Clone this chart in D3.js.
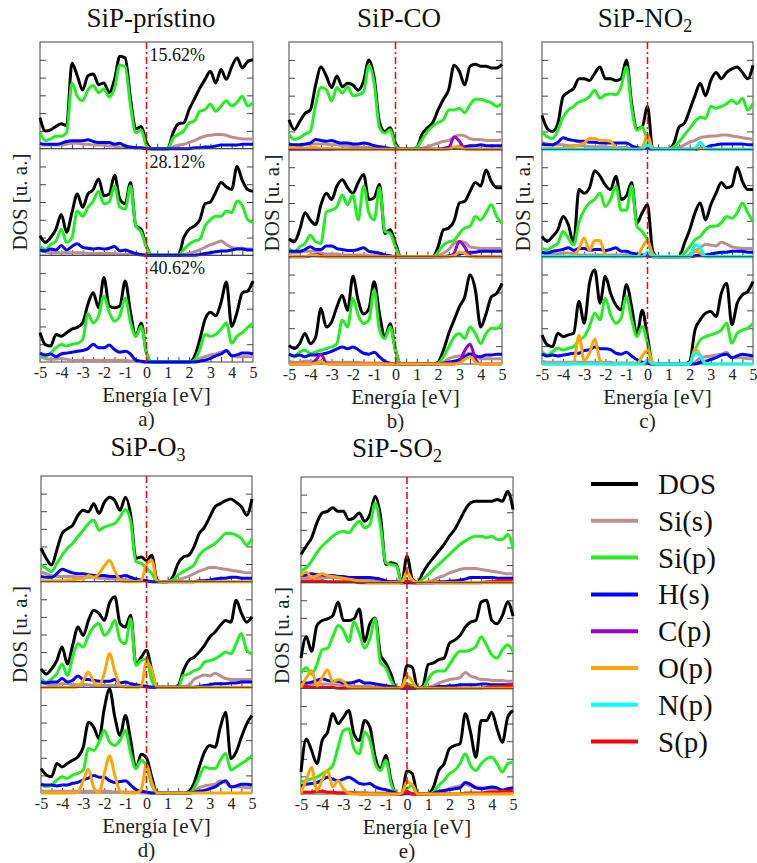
<!DOCTYPE html>
<html>
<head>
<meta charset="utf-8">
<script src="https://cdn.jsdelivr.net/npm/d3@7"></script>
<style>
  body { margin: 0; background: #fff; }
  svg { display: block; font-family: "Liberation Serif", "DejaVu Serif", serif; }
</style>
</head>
<body>
<div id="chart"></div>
<script>
// Densidad de estados proyectada, SiP prístino y con moléculas adsorbidas

const energy = [-5,-4.75,-4.5,-4.25,-4,-3.75,-3.5,-3.25,-3,-2.75,-2.5,-2.25,-2,-1.75,-1.5,-1.25,-1,-0.75,-0.5,-0.25,
  0,0.25,0.5,0.75,1,1.25,1.5,1.75,2,2.25,2.5,2.75,3,3.25,3.5,3.75,4,4.25,4.5,4.75,5];

const seriesNames = ['DOS', 'Si(s)', 'Si(p)', 'H(s)', 'C(p)', 'O(p)', 'N(p)', 'S(p)'];
const seriesColors = ['#000000', '#bc8f8f', '#22ee22', '#0000ff', '#9400d3', '#ffa500', '#00ffff', '#ff0000'];
const drawOrder = ['DOS', 'Si(s)', 'Si(p)', 'H(s)', 'S(p)', 'C(p)', 'O(p)', 'N(p)'];

const energyTicks = [-5,-4,-3,-2,-1,0,1,2,3,4,5];
const coverageLabels = ['15.62%', '28.12%', '40.62%'];

// --- a) SiP-prístino ---
const a1_dos = [1.75,1.0,1.06,1.25,1.4,1.3,4.8,4.1,3.3,4.1, 4.2,3.6,3.7,3.15,3.9,5.2,5.1,2.8,1.1,1.25, 0.35, 0,0,0,0,0.9,1.4,1.45,2.2,2.8,3.4, 3.9,4.35,3.7,4.45,3.9,4.6,5.1,4.55,4.9,5.0];
const a1_sip = [0.9,0.45,0.55,0.7,0.7,0.9,3.7,2.95,2.7,3.3, 3.55,3.15,3.35,2.9,3.4,4.7,4.6,2.4,0.9,1.05, 0.15, 0,0,0,0,0.6,0.8,1.0,1.45,1.55,2.1, 2.2,2.5,2.1,2.4,2.7,2.4,2.6,2.95,2.4,2.6];
const a1_sis = [0.25,0.2,0.2,0.2,0.2,0.25,0.3,0.3,0.25,0.25, 0.2,0.2,0.2,0.15,0.15,0.1,0.1,0.05,0.05,0.05, 0, 0,0,0,0,0.1,0.2,0.25,0.35,0.45,0.6, 0.7,0.75,0.8,0.8,0.75,0.65,0.6,0.55,0.55,0.55];
const a1_hs = [0.3,0.25,0.25,0.25,0.3,0.4,0.45,0.45,0.45,0.5, 0.4,0.35,0.35,0.35,0.25,0.3,0.15,0.1,0.05,0.05, 0, 0,0,0,0,0,0,0,0,0.05,0.05, 0.1,0.1,0.15,0.2,0.2,0.2,0.2,0.25,0.25,0.25];

const a2_dos = [1.1,0.73,1.0,1.47,2.3,1.3,2.4,3.45,2.7,3.45, 3.7,4.3,3.35,3.45,4.5,3.15,2.9,4.1,1.65,1.47, 0.5, 0,0,0,0,0,0,1.0,1.47,1.65,2.0, 2.9,3.0,3.55,4.1,3.85,3.7,5.0,4.2,3.7,3.6];
const a2_sip = [0.5,0.33,0.62,0.8,1.47,0.73,1.0,2.5,2.2,2.7, 3.05,3.6,2.9,3.0,3.9,2.7,2.6,3.9,1.65,1.3, 0.45, 0,0,0,0,0,0,0.33,0.62,0.8,0.9, 1.65,2.0,2.2,2.2,2.5,2.4,3.05,2.8,2.0,1.85];
const a2_sis = [0.25,0.2,0.15,0.15,0.15,0.15,0.15,0.15,0.15,0.1, 0.1,0.1,0.1,0.1,0.1,0.05,0.05,0.05,0.05,0, 0, 0,0,0,0,0,0,0.05,0.1,0.2,0.3, 0.45,0.6,0.7,0.8,0.6,0.45,0.4,0.4,0.35,0.35];
const a2_hs = [0.3,0.25,0.35,0.3,0.55,0.3,0.5,0.65,0.45,0.4, 0.35,0.4,0.35,0.4,0.5,0.25,0.3,0.2,0.1,0.05, 0, 0,0,0,0,0,0,0,0,0,0.05, 0.1,0.15,0.2,0.25,0.25,0.3,0.35,0.35,0.3,0.3];

const a3_dos = [1.65,0.98,0.9,1.55,1.45,1.65,1.85,1.95,2.2,3.25, 3.9,3.05,4.75,3.15,3.05,3.15,4.55,2.8,1.45,2.2, 0.5, 0,0,0,0,0,0,0,0,0.3,1.25, 2.4,2.8,2.6,3.35,4.5,2.0,2.8,3.9,4.0,4.55];
const a3_sip = [0.5,0.3,0.5,0.8,0.98,0.9,1.0,1.05,1.25,2.7, 2.2,2.6,3.7,2.8,2.3,2.6,3.6,2.2,1.45,2.0, 0.5, 0,0,0,0,0,0,0,0,0.1,0.7, 1.55,1.45,1.55,1.85,2.2,1.05,1.45,1.65,1.95,2.2];
const a3_sis = [0.3,0.2,0.15,0.15,0.2,0.15,0.1,0.1,0.1,0.1, 0.1,0.1,0.1,0.1,0.1,0.1,0.1,0.05,0.05,0, 0, 0,0,0,0,0,0,0,0,0.05,0.2, 0.3,0.4,0.45,0.55,0.6,0.35,0.3,0.3,0.3,0.3];
const a3_hs = [0.5,0.4,0.45,0.3,0.45,0.5,0.55,0.6,0.65,0.75, 1.0,0.8,0.8,0.95,0.7,0.55,0.6,0.45,0.1,0.05, 0, 0,0,0,0,0,0,0,0,0,0.05, 0.1,0.2,0.35,0.45,0.65,0.35,0.4,0.5,0.5,0.45];

// --- b) SiP-CO ---
const b1_dos = [1.65,1.1,1.55,2.0,2.2,3.6,4.6,4.1,3.45,4.1, 3.5,3.7,3.6,3.3,3.8,5.0,4.0,1.5,1.0,1.2, 0.35, 0,0,0,0.1,0.85,1.2,1.5,2.2,2.8,3.35, 4.7,4.35,3.6,4.65,4.75,4.65,4.65,4.55,4.55,4.75];
const b1_sip = [0.85,0.55,0.65,0.85,1.0,2.5,3.45,3.35,2.7,3.45, 3.15,3.5,3.0,3.05,3.2,4.7,3.7,1.2,0.9,1.1, 0.2, 0,0,0,0.1,0.55,1.0,1.3,1.5,1.65,2.2, 2.2,2.3,2.05,2.5,2.8,2.8,2.7,2.6,2.4,2.55];
const b1_sis = [0.25,0.2,0.2,0.25,0.3,0.3,0.3,0.3,0.25,0.25, 0.2,0.2,0.15,0.15,0.1,0.1,0.05,0.05,0,0, 0, 0,0,0,0,0.05,0.15,0.25,0.35,0.45,0.5, 0.65,0.8,0.75,0.6,0.55,0.55,0.5,0.5,0.5,0.55];
const b1_hs = [0.3,0.25,0.25,0.3,0.35,0.55,0.5,0.45,0.5,0.4, 0.35,0.35,0.3,0.3,0.35,0.3,0.2,0.15,0.1,0.05, 0, 0,0,0,0,0,0,0,0,0.05,0.1, 0.1,0.15,0.15,0.2,0.2,0.25,0.2,0.2,0.2,0.2];
const b1_cp = [0,0,0,0,0,0,0,0,0,0, 0,0,0,0,0,0,0,0,0,0, 0, 0,0,0,0,0,0,0,0,0,0.05, 0.7,0.45,0.05,0,0,0,0,0,0,0];
const b1_op = [0.1,0.1,0.05,0.05,0.1,0.1,0.05,0.05,0.05,0, 0,0,0,0,0,0,0,0,0,0, 0, 0,0,0,0,0,0,0,0,0,0, 0.15,0.15,0,0,0,0,0,0,0,0];

const b2_dos = [1.0,0.83,1.5,2.45,2.05,1.8,2.9,3.55,3.2,3.95, 4.3,3.85,3.55,4.15,4.6,3.2,3.3,4.05,1.3,1.5, 0.75, 0,0,0,0,0,0,0,0.55,1.5,1.6, 2.0,3.0,3.1,3.65,4.15,3.95,4.85,4.2,3.85,3.85];
const b2_sip = [0.45,0.26,0.55,0.74,1.2,0.83,0.74,2.5,2.6,2.8, 3.45,2.9,3.45,2.05,3.95,2.45,2.05,3.85,1.4,1.3, 0.55, 0,0,0,0,0,0,0,0.26,0.65,0.83, 0.92,1.3,1.6,1.7,2.25,2.05,2.45,2.9,2.25,1.85];
const b2_sis = [0.2,0.2,0.25,0.3,0.3,0.35,0.2,0.15,0.15,0.15, 0.1,0.1,0.1,0.1,0.1,0.05,0.05,0.05,0,0, 0, 0,0,0,0,0,0,0,0.05,0.2,0.4, 0.75,0.85,0.8,0.55,0.5,0.45,0.45,0.45,0.45,0.45];
const b2_hs = [0.3,0.3,0.3,0.4,0.55,0.4,0.4,0.6,0.6,0.45, 0.4,0.35,0.35,0.4,0.5,0.3,0.25,0.2,0.1,0.05, 0, 0,0,0,0,0,0,0,0,0,0.05, 0.1,0.15,0.2,0.25,0.25,0.3,0.3,0.3,0.3,0.3];
const b2_cp = [0,0,0,0,0.05,0.15,0.05,0,0,0, 0,0,0,0,0,0,0,0,0,0, 0, 0,0,0,0,0,0,0,0,0,0, 0.2,0.85,0.55,0.05,0,0,0,0,0,0];
const b2_op = [0.05,0,0,0,0.1,0.1,0,0,0,0, 0,0,0,0,0,0,0,0,0,0, 0, 0,0,0,0,0,0,0,0,0,0, 0.05,0.25,0.2,0,0,0,0,0,0,0];

const b3_dos = [1.05,0.86,1.14,1.7,1.14,1.5,3.1,2.07,2.35,3.2, 3.85,3.0,4.9,3.55,2.8,3.1,4.6,2.8,1.5,2.25, 0.77, 0,0,0,0,0,0,0,0.1,0.77,1.7, 2.45,3.2,3.75,4.97,4.13,2.07,2.8,3.75,3.95,4.5];
const b3_sip = [0.49,0.4,0.67,0.77,0.58,0.67,0.77,0.86,0.95,1.14, 2.45,2.07,3.66,2.73,2.26,2.45,4.13,1.89,1.42,2.07, 0.77, 0,0,0,0,0,0,0,0.05,0.4,0.95, 1.5,1.7,1.42,2.07,1.7,1.14,1.7,1.98,1.98,2.26];
const b3_sis = [0.15,0.1,0.1,0.15,0.15,0.15,0.1,0.1,0.1,0.1, 0.1,0.1,0.1,0.1,0.05,0.05,0.05,0.05,0,0, 0, 0,0,0,0,0,0,0,0,0.1,0.3, 0.4,0.45,0.5,0.6,0.5,0.3,0.3,0.3,0.3,0.3];
const b3_hs = [0.55,0.45,0.5,0.4,0.5,0.5,0.55,0.6,0.7,0.85, 0.95,0.85,0.95,0.8,0.6,0.55,0.65,0.4,0.15,0.05, 0, 0,0,0,0,0,0,0,0,0.05,0.1, 0.15,0.25,0.4,0.55,0.45,0.4,0.5,0.5,0.55,0.55];
const b3_cp = [0,0,0,0,0,0.2,0.55,0.05,0,0, 0,0,0,0,0,0,0,0,0,0, 0, 0,0,0,0,0,0,0,0,0,0, 0,0.15,0.75,1.1,0.3,0,0,0,0,0];
const b3_op = [0,0,0,0,0,0.05,0.15,0,0,0, 0,0,0,0,0,0,0,0,0,0, 0, 0,0,0,0,0,0,0,0,0,0, 0,0.05,0.25,0.4,0.1,0,0,0,0,0];

// --- c) SiP-NO2 ---
const c1_dos = [1.9,1.17,1.0,1.45,2.95,3.2,3.4,3.95,3.95,3.85, 4.25,4.6,3.95,3.95,3.85,3.95,5.0,2.55,1.17,1.25, 2.4, 0,0,0,0,0.33,1.25,1.45,2.2,3.0,3.7, 3.0,3.85,4.3,3.95,4.3,4.5,4.6,4.3,3.95,4.7];
const c1_sip = [1.0,0.7,0.6,1.07,1.8,2.2,2.4,2.65,2.75,2.95, 3.3,2.85,3.05,3.1,3.05,3.5,4.6,2.3,1.07,1.25, 0.5, 0,0,0,0,0.15,0.43,0.8,1.17,1.55,1.8, 1.73,2.4,2.3,2.4,2.55,2.75,2.55,2.85,2.2,2.55];
const c1_sis = [0.4,0.3,0.25,0.25,0.25,0.2,0.2,0.2,0.2,0.15, 0.15,0.15,0.15,0.1,0.1,0.1,0.1,0.05,0.05,0.05, 0.05, 0,0,0,0,0.05,0.1,0.25,0.4,0.5,0.65, 0.7,0.75,0.75,0.8,0.8,0.75,0.7,0.65,0.6,0.55];
const c1_hs = [0.3,0.25,0.25,0.4,0.65,0.55,0.5,0.45,0.45,0.4, 0.4,0.35,0.35,0.35,0.35,0.35,0.35,0.2,0.1,0.05, 0.05, 0,0,0,0,0,0,0,0,0,0.05, 0.1,0.2,0.25,0.3,0.3,0.3,0.3,0.3,0.25,0.25];
const c1_op = [0.05,0.05,0.05,0.05,0.05,0.1,0.15,0.25,0.35,0.6, 0.6,0.5,0.5,0.45,0.1,0,0,0,0,0.1, 0.8, 0.05,0,0,0,0,0,0,0,0,0.05, 0,0,0,0,0,0,0,0,0,0];
const c1_np = [0,0,0,0,0,0,0,0,0,0, 0,0,0,0,0,0,0,0,0,0, 0.3, 0,0,0,0,0,0,0,0,0.05,0.4, 0.05,0,0,0,0,0,0,0,0,0];

const c2_dos = [1.13,0.85,1.13,1.5,2.25,1.78,0.75,3.75,3.55,3.85, 4.8,4.5,4.0,3.75,4.5,3.2,3.4,4.15,1.9,2.45, 2.9, 0.3,0,0,0,0,0,0.75,1.5,2.45,3.0, 2.05,2.9,3.55,4.15,3.85,3.95,5.0,4.2,3.75,3.75];
const c2_sip = [0.47,0.38,0.56,0.75,1.4,1.03,0.66,1.9,2.6,3.0, 3.2,3.55,2.8,3.2,3.95,2.6,2.6,3.95,1.7,1.4, 0.94, 0.1,0,0,0,0,0,0.2,0.56,0.94,1.13, 1.5,1.7,1.7,1.9,2.25,2.15,2.45,3.0,2.45,1.97];
const c2_sis = [0.2,0.2,0.15,0.15,0.2,0.2,0.15,0.1,0.1,0.1, 0.1,0.1,0.1,0.1,0.1,0.1,0.1,0.05,0.05,0.05, 0.05, 0,0,0,0,0,0,0,0.1,0.3,0.5, 0.7,0.65,0.6,0.8,0.7,0.55,0.5,0.45,0.45,0.45];
const c2_hs = [0.25,0.2,0.3,0.35,0.4,0.5,0.35,0.45,0.45,0.35, 0.4,0.4,0.35,0.4,0.5,0.3,0.3,0.2,0.15,0.1, 0.05, 0,0,0,0,0,0,0,0,0.05,0.1, 0.1,0.15,0.2,0.25,0.25,0.3,0.3,0.3,0.25,0.25];
const c2_op = [0,0,0,0,0,0,0.05,0.45,1.05,0.35, 0.9,0.9,0.1,0,0,0,0,0,0,0.5, 0.9, 0.15,0,0,0,0,0,0,0,0.35,0.2, 0,0,0,0,0,0,0,0,0,0];
const c2_np = [0,0,0,0,0,0,0,0,0,0, 0,0,0,0,0,0,0,0,0,0, 0.25, 0,0,0,0,0,0,0,0,0.65,0.5, 0,0,0,0,0,0,0,0,0,0];

const c3_dos = [1.63,1.07,0.97,1.72,1.53,1.63,1.72,3.5,2.28,4.52, 5.27,3.4,4.9,3.96,3.3,3.03,4.43,3.2,1.63,3.0, 1.53, 0,0,0,0,0,0,0,0.13,1.9,2.47, 2.84,2.93,2.65,3.96,4.52,2.19,3.4,3.87,4.05,4.6];
const c3_sip = [0.69,0.5,0.69,0.88,0.78,0.88,0.97,1.35,1.53,2.1, 2.84,2.47,3.68,2.75,2.28,2.56,3.78,2.47,1.53,2.1, 1.16, 0,0,0,0,0,0,0,0.04,0.78,1.35, 1.53,1.63,1.72,1.9,2.28,1.16,1.72,1.9,2.0,2.28];
const c3_sis = [0.15,0.1,0.1,0.1,0.1,0.1,0.1,0.1,0.1,0.1, 0.1,0.1,0.1,0.1,0.05,0.05,0.05,0.05,0.05,0, 0, 0,0,0,0,0,0,0,0,0.1,0.35, 0.4,0.45,0.5,0.55,0.65,0.35,0.35,0.35,0.3,0.3];
const c3_hs = [0.55,0.45,0.5,0.45,0.5,0.55,0.6,0.6,0.75,0.8, 0.95,0.85,0.85,0.8,0.6,0.55,0.65,0.45,0.25,0.1, 0.05, 0,0,0,0,0,0,0,0,0,0.1, 0.15,0.25,0.35,0.5,0.55,0.35,0.45,0.55,0.5,0.45];
const c3_op = [0,0,0,0,0,0,0.05,1.6,0.2,0.6, 1.4,0.2,0,0,0,0,0,0,0,0.45, 0.75, 0.1,0,0,0,0,0,0,0,0.85,0.5, 0.05,0,0,0,0,0,0,0,0,0];
const c3_np = [0,0,0,0,0,0,0,0,0,0, 0,0,0,0,0,0,0,0,0,0, 0.2, 0,0,0,0,0,0,0,0,0.65,0.45, 0,0,0,0,0,0,0,0,0,0];

// --- d) SiP-O3 ---
const d1_dos = [1.9,1.32,0.94,1.8,2.74,3.0,3.2,3.77,4.05,3.96, 4.43,3.87,4.5,4.8,4.6,4.05,4.8,3.8,1.32,1.4, 1.2, 1.5,0.1,0,0,0.28,1.04,1.4,1.5,1.98,2.74, 3.1,3.68,4.25,4.43,4.6,4.7,4.5,4.25,3.77,4.7];
const d1_sip = [0.94,0.75,0.57,1.04,1.5,1.9,2.17,2.55,2.92,3.3, 3.5,2.92,3.1,3.2,3.3,3.68,4.1,3.4,1.13,1.04, 0.75, 0.47,0,0,0,0.09,0.38,0.57,0.75,0.94,1.5, 1.8,1.98,2.17,2.45,2.74,2.74,2.64,2.45,2.08,2.45];
const d1_sis = [0.55,0.45,0.35,0.3,0.3,0.3,0.3,0.25,0.25,0.25, 0.25,0.2,0.2,0.15,0.15,0.15,0.1,0.1,0.05,0.05, 0.05, 0,0,0,0,0.05,0.1,0.2,0.3,0.45,0.6, 0.7,0.8,0.8,0.75,0.7,0.65,0.6,0.55,0.5,0.5];
const d1_hs = [0.3,0.25,0.25,0.45,0.7,0.6,0.5,0.45,0.45,0.4, 0.35,0.35,0.35,0.3,0.3,0.3,0.35,0.25,0.15,0.1, 0.05, 0,0,0,0,0,0,0,0,0,0.05, 0.05,0.1,0.15,0.2,0.2,0.25,0.25,0.2,0.2,0.2];
const d1_op = [0.05,0.05,0.05,0.05,0.05,0.1,0.1,0.15,0.15,0.35, 0.25,0.45,0.9,1.2,0.6,0.1,0,0,0,0.05, 1.0, 1.2,0.05,0,0,0,0,0,0,0,0, 0,0,0,0,0,0,0,0,0,0];

const d2_dos = [1.05,0.76,1.05,1.52,2.29,1.33,2.38,3.43,2.95,3.8, 4.38,4.2,3.8,4.8,5.15,3.62,3.43,4.1,1.33,1.71, 2.1, 0.95,0,0,0,0,0.1,0.95,1.52,1.71,2.0, 2.38,2.86,3.14,3.52,3.8,3.7,4.95,4.2,3.7,4.0];
const d2_sip = [0.48,0.29,0.48,0.76,1.33,0.67,1.71,2.48,2.29,2.95, 3.43,3.62,2.95,3.24,3.8,2.67,2.48,3.9,1.24,1.52, 1.62, 0.38,0,0,0,0,0,0.67,0.76,0.95,1.05, 1.43,1.52,1.62,1.81,2.0,1.9,2.48,3.05,2.1,1.9];
const d2_sis = [0.25,0.2,0.15,0.15,0.2,0.2,0.15,0.15,0.15,0.15, 0.1,0.1,0.1,0.1,0.1,0.05,0.05,0.05,0.05,0.05, 0, 0,0,0,0,0,0,0.05,0.1,0.45,0.6, 0.7,0.65,0.8,0.65,0.5,0.45,0.45,0.45,0.45,0.45];
const d2_hs = [0.3,0.25,0.3,0.3,0.5,0.3,0.4,0.65,0.45,0.45, 0.4,0.35,0.35,0.35,0.45,0.25,0.3,0.2,0.15,0.1, 0.05, 0,0,0,0,0,0,0,0,0,0.05, 0.1,0.15,0.2,0.2,0.2,0.25,0.25,0.3,0.3,0.3];
const d2_op = [0,0,0,0,0,0,0,0.05,0.4,0.85, 0.3,0.1,0.8,1.9,0.9,0.1,0,0,0,0.05, 1.45, 1.0,0,0,0,0,0,0,0,0,0, 0,0,0,0,0,0,0,0,0,0];

const d3_dos = [1.39,1.02,0.92,1.67,1.48,1.67,1.86,2.05,2.6,4.0, 3.74,3.08,4.8,5.9,4.3,3.27,4.4,2.99,1.39,2.2, 2.0, 0.9,0,0,0,0,0,0,0.08,0.55,1.48, 2.33,2.7,2.6,3.74,4.59,1.95,2.33,3.18,3.93,4.4];
const d3_sip = [0.45,0.36,0.45,0.73,0.92,0.83,1.02,1.11,1.3,2.52, 2.42,2.9,3.55,2.9,2.7,2.99,3.55,2.24,1.39,1.86, 1.48, 0.45,0,0,0,0,0,0,0,0.26,0.92, 1.48,1.39,1.39,1.86,2.24,1.3,1.48,1.67,1.86,2.14];
const d3_sis = [0.15,0.1,0.1,0.1,0.1,0.1,0.1,0.1,0.1,0.1, 0.1,0.1,0.1,0.1,0.05,0.05,0.05,0.05,0.05,0, 0, 0,0,0,0,0,0,0,0,0.1,0.3, 0.4,0.45,0.5,0.7,0.6,0.35,0.35,0.35,0.3,0.3];
const d3_hs = [0.5,0.45,0.45,0.4,0.45,0.45,0.55,0.6,0.75,0.85, 1.0,0.9,0.9,0.7,0.6,0.65,0.7,0.45,0.2,0.1, 0.05, 0,0,0,0,0,0,0,0,0.05,0.1, 0.15,0.25,0.35,0.55,0.7,0.35,0.4,0.5,0.5,0.45];
const d3_op = [0,0,0,0,0,0,0,0.05,0.7,1.35, 0.3,0.05,1.1,2.1,1.0,0.1,0,0,0,0.2, 1.6, 0.6,0,0,0,0,0,0,0,0,0, 0,0,0,0,0,0,0,0,0,0];

// --- e) SiP-SO2 ---
const e1_dos = [1.6,2.08,2.55,3.4,3.96,4.05,4.25,4.05,4.05,3.58, 3.68,3.96,3.49,3.87,4.9,3.77,1.04,1.13,1.04,0, 1.5, 0.2,0,0.57,1.04,1.42,1.8,2.17,2.64,3.02,3.58, 4.15,4.53,4.62,4.62,4.62,4.62,4.72,4.62,5.19,4.15];
const e1_sip = [0.66,0.85,1.23,1.7,2.08,2.36,2.64,2.83,2.92,2.83, 3.2,3.49,3.11,3.3,4.53,3.2,1.13,1.04,0.94,0, 0.57, 0.1,0,0.2,0.47,0.75,1.04,1.32,1.6,1.89,2.17, 2.36,2.55,2.64,2.64,2.55,2.64,2.45,2.45,2.74,1.98];
const e1_sis = [0.3,0.3,0.3,0.3,0.3,0.3,0.3,0.3,0.25,0.25, 0.2,0.2,0.15,0.15,0.1,0.1,0.05,0.05,0.05,0, 0, 0,0,0,0.05,0.15,0.3,0.4,0.55,0.65,0.75, 0.8,0.8,0.8,0.75,0.7,0.65,0.6,0.55,0.5,0.5];
const e1_hs = [0.4,0.45,0.5,0.45,0.45,0.4,0.4,0.35,0.35,0.3, 0.3,0.3,0.3,0.3,0.25,0.2,0.1,0.05,0.05,0, 0, 0,0,0,0,0,0.05,0.05,0.1,0.1,0.15, 0.2,0.3,0.3,0.3,0.3,0.3,0.25,0.25,0.25,0.25];
const e1_op = [0.4,0.6,0.3,0.4,0.5,0.4,0.35,0.3,0.25,0.2, 0.15,0.1,0.05,0,0,0,0,0,0,0, 0.6, 0.15,0,0,0,0,0,0,0,0,0, 0,0,0,0,0,0,0,0,0,0];
const e1_sp = [0.1,0.1,0.1,0.1,0.1,0.05,0.05,0.05,0.05,0.05, 0.05,0,0,0,0,0,0,0,0,0, 0.1, 0,0,0,0,0,0,0,0,0,0, 0,0,0,0,0.05,0.05,0.1,0.1,0.1,0.1];

const e2_dos = [1.72,2.93,2.1,3.57,3.85,3.94,4.13,4.9,3.85,3.85, 3.95,4.5,2.65,3.67,4.0,1.9,1.44,0.8,0,0, 1.3, 1.2,0,0.15,1.35,1.44,1.63,1.72,2.55,2.74,3.0, 3.48,3.76,3.85,4.9,5.0,3.85,3.67,4.13,4.9,4.1];
const e2_sip = [0.89,1.17,0.8,1.35,2.19,2.28,2.93,3.57,3.3,2.65, 3.76,3.11,2.28,2.83,3.95,1.44,1.17,0.43,0,0, 0.24, 0.15,0,0.05,0.52,0.89,0.98,0.98,1.35,1.81,2.1, 2.1,2.19,2.37,2.93,2.46,1.9,1.72,2.19,2.46,2.1];
const e2_sis = [0.2,0.2,0.2,0.25,0.25,0.25,0.2,0.2,0.15,0.15, 0.15,0.1,0.1,0.1,0.05,0.05,0.05,0,0,0, 0, 0,0,0,0.05,0.15,0.3,0.4,0.5,0.55,0.6, 0.9,0.7,0.6,0.5,0.5,0.45,0.45,0.45,0.4,0.4];
const e2_hs = [0.35,0.3,0.35,0.45,0.55,0.45,0.4,0.4,0.3,0.3, 0.35,0.45,0.3,0.3,0.25,0.2,0.15,0.1,0.05,0, 0, 0,0,0,0,0.05,0.1,0.1,0.15,0.15,0.2, 0.2,0.2,0.2,0.25,0.25,0.2,0.2,0.2,0.2,0.2];
const e2_op = [0.05,0.6,1.0,0.15,0.6,1.05,0.35,0.5,0.4,0.05, 0,0,0,0,0,0,0,0,0,0.05, 0.7, 0.4,0,0,0,0,0,0,0,0,0, 0,0,0,0,0,0,0,0,0,0];
const e2_sp = [0.1,0.1,0.05,0.05,0.05,0.05,0.05,0,0,0, 0,0,0,0,0,0,0,0,0,0, 0.15, 0,0,0,0,0,0,0,0,0,0, 0,0,0,0,0.05,0.1,0.1,0.1,0.15,0.15];

const e3_dos = [1.25,3.13,2.47,1.72,3.04,3.5,4.55,4.0,4.36,4.74, 3.4,3.04,4.17,3.8,2.09,1.43,2.19,0.77,0,0, 1.3, 1.15,0,0,0,0.4,1.34,1.72,2.57,2.75,2.85, 4.55,3.5,2.09,4.17,4.17,4.64,3.7,2.94,4.36,4.74];
const e3_sip = [0.68,0.77,0.87,0.96,1.15,1.34,1.62,2.66,3.6,3.7, 2.57,2.28,3.5,3.04,1.72,1.34,1.91,0.58,0,0, 0.3, 0.49,0,0,0,0.11,0.49,0.77,1.15,1.34,1.72, 2.28,1.62,1.34,1.72,2.0,2.09,1.72,1.25,1.72,1.81];
const e3_sis = [0.1,0.1,0.1,0.1,0.1,0.1,0.1,0.1,0.1,0.1, 0.1,0.1,0.1,0.05,0.05,0.05,0.05,0,0,0, 0, 0,0,0,0,0,0.05,0.1,0.3,0.4,0.45, 0.55,0.45,0.4,0.35,0.3,0.25,0.25,0.25,0.25,0.25];
const e3_hs = [0.45,0.55,0.6,0.65,0.8,0.95,0.85,0.75,0.85,0.95, 0.8,0.6,0.55,0.6,0.4,0.3,0.25,0.15,0.05,0, 0.05, 0,0,0,0,0.05,0.15,0.2,0.25,0.3,0.35, 0.65,0.55,0.35,0.3,0.35,0.4,0.35,0.2,0.3,0.35];
const e3_op = [0.05,0.8,1.5,0.2,0.8,1.35,0.4,0.75,0.3,0.05, 0,0,0,0,0,0,0,0,0,0.05, 0.7, 0.5,0,0,0,0,0,0,0,0,0, 0,0,0,0,0,0,0,0,0,0];
const e3_sp = [0.1,0.1,0.1,0.15,0.15,0.1,0.1,0.05,0.05,0.05, 0.05,0,0,0,0,0,0,0,0,0, 0.15, 0,0,0,0,0,0,0,0,0,0, 0.05,0.05,0.05,0.05,0.1,0.1,0.1,0.15,0.15,0.2];

// tabla por panel: tres coberturas, cada una con sus proyecciones
const panelSeries = {
  a: [
    {'DOS': a1_dos, 'Si(s)': a1_sis, 'Si(p)': a1_sip, 'H(s)': a1_hs},
    {'DOS': a2_dos, 'Si(s)': a2_sis, 'Si(p)': a2_sip, 'H(s)': a2_hs},
    {'DOS': a3_dos, 'Si(s)': a3_sis, 'Si(p)': a3_sip, 'H(s)': a3_hs}
  ],
  b: [
    {'DOS': b1_dos, 'Si(s)': b1_sis, 'Si(p)': b1_sip, 'H(s)': b1_hs, 'C(p)': b1_cp, 'O(p)': b1_op},
    {'DOS': b2_dos, 'Si(s)': b2_sis, 'Si(p)': b2_sip, 'H(s)': b2_hs, 'C(p)': b2_cp, 'O(p)': b2_op},
    {'DOS': b3_dos, 'Si(s)': b3_sis, 'Si(p)': b3_sip, 'H(s)': b3_hs, 'C(p)': b3_cp, 'O(p)': b3_op}
  ],
  c: [
    {'DOS': c1_dos, 'Si(s)': c1_sis, 'Si(p)': c1_sip, 'H(s)': c1_hs, 'O(p)': c1_op, 'N(p)': c1_np},
    {'DOS': c2_dos, 'Si(s)': c2_sis, 'Si(p)': c2_sip, 'H(s)': c2_hs, 'O(p)': c2_op, 'N(p)': c2_np},
    {'DOS': c3_dos, 'Si(s)': c3_sis, 'Si(p)': c3_sip, 'H(s)': c3_hs, 'O(p)': c3_op, 'N(p)': c3_np}
  ],
  d: [
    {'DOS': d1_dos, 'Si(s)': d1_sis, 'Si(p)': d1_sip, 'H(s)': d1_hs, 'O(p)': d1_op},
    {'DOS': d2_dos, 'Si(s)': d2_sis, 'Si(p)': d2_sip, 'H(s)': d2_hs, 'O(p)': d2_op},
    {'DOS': d3_dos, 'Si(s)': d3_sis, 'Si(p)': d3_sip, 'H(s)': d3_hs, 'O(p)': d3_op}
  ],
  e: [
    {'DOS': e1_dos, 'Si(s)': e1_sis, 'Si(p)': e1_sip, 'H(s)': e1_hs, 'O(p)': e1_op, 'S(p)': e1_sp},
    {'DOS': e2_dos, 'Si(s)': e2_sis, 'Si(p)': e2_sip, 'H(s)': e2_hs, 'O(p)': e2_op, 'S(p)': e2_sp},
    {'DOS': e3_dos, 'Si(s)': e3_sis, 'Si(p)': e3_sip, 'H(s)': e3_hs, 'O(p)': e3_op, 'S(p)': e3_sp}
  ]
};

// layout of the five panels (pixels)
const panels = [
  { key: 'a', title: ['SiP-prístino'], x0: 40, x1: 253, top: 42, bottom: 362, tx: 151, ty: 27, ylx: 20, pct: true },
  { key: 'b', title: ['SiP-CO'], x0: 289, x1: 502, top: 42, bottom: 364, tx: 399, ty: 27, ylx: 272 },
  { key: 'c', title: ['SiP-NO', '2'], x0: 542, x1: 753, top: 42, bottom: 364, tx: 645, ty: 27, ylx: 523 },
  { key: 'd', title: ['SiP-O', '3'], x0: 41, x1: 252, top: 476, bottom: 793, tx: 148, ty: 456, ylx: 20 },
  { key: 'e', title: ['SiP-SO', '2'], x0: 301, x1: 513, top: 477, bottom: 794, tx: 397, ty: 457, ylx: 282 }
];

const width = 757, height = 863;
const color = d3.scaleOrdinal().domain(seriesNames).range(seriesColors);

const svg = d3.select('#chart').append('svg')
  .attr('width', width)
  .attr('height', height)
  .attr('viewBox', [0, 0, width, height]);

svg.append('rect').attr('width', width).attr('height', height).attr('fill', '#fff');

panels.forEach(p => {
  const g = svg.append('g').attr('class', 'panel-' + p.key);
  const x = d3.scaleLinear().domain([-5, 5]).range([p.x0, p.x1]);
  const subH = (p.bottom - p.top) / 3;

  panelSeries[p.key].forEach((sub, k) => {
    const yTop = p.top + k * subH, yBot = yTop + subH;
    const y = d3.scaleLinear().domain([0, 6]).range([yBot, yTop]);

    // frame
    g.append('rect')
      .attr('x', p.x0).attr('y', yTop)
      .attr('width', p.x1 - p.x0).attr('height', subH)
      .attr('fill', 'none').attr('stroke', '#444').attr('stroke-width', 1);

    // inward ticks
    const tickStyle = a => a.call(s => s.select('.domain').remove())
      .call(s => s.selectAll('line').attr('stroke', '#444'));
    g.append('g').attr('transform', `translate(0,${yBot})`)
      .call(d3.axisTop(x).tickValues(d3.range(-4.5, 5, 0.5)).tickSize(5).tickFormat(''))
      .call(tickStyle);
    g.append('g').attr('transform', `translate(${p.x0},0)`)
      .call(d3.axisRight(y).tickValues([1, 2, 3, 4, 5]).tickSize(6).tickFormat(''))
      .call(tickStyle);
    g.append('g').attr('transform', `translate(${p.x1},0)`)
      .call(d3.axisLeft(y).tickValues([1, 2, 3, 4, 5]).tickSize(6).tickFormat(''))
      .call(tickStyle);

    const line = d3.line()
      .x((d, i) => x(energy[i]))
      .y(d => y(d))
      .curve(d3.curveMonotoneX);

    drawOrder.filter(n => sub[n]).forEach(n => {
      g.append('path')
        .datum(sub[n])
        .attr('d', line)
        .attr('fill', 'none')
        .attr('stroke', color(n))
        .attr('stroke-width', 3)
        .attr('stroke-linejoin', 'round');
    });

    if (p.pct) {
      g.append('text')
        .attr('x', x(0) + 3).attr('y', yTop + 19)
        .attr('font-size', 18).attr('fill', '#111')
        .text(coverageLabels[k]);
    }
  });

  // Fermi level
  g.append('line')
    .attr('x1', x(0)).attr('x2', x(0))
    .attr('y1', p.top).attr('y2', p.bottom)
    .attr('stroke', '#ff0000').attr('stroke-width', 1.5)
    .attr('stroke-dasharray', '7,3,2,3');

  // energy labels
  g.append('g').attr('transform', `translate(0,${p.bottom})`)
    .call(d3.axisBottom(x).tickValues(energyTicks).tickSize(0).tickPadding(5).tickFormat(d => String(d)))
    .call(s => s.select('.domain').remove())
    .call(s => s.selectAll('text').attr('font-size', 16).attr('font-family', 'Liberation Serif, serif').attr('fill', '#222'));

  const cx = (p.x0 + p.x1) / 2;
  g.append('text')
    .attr('x', cx + 10).attr('y', Math.min(p.bottom + 40, 834))
    .attr('text-anchor', 'middle').attr('font-size', 21).attr('fill', '#222')
    .text('Energía [eV]');
  g.append('text')
    .attr('x', cx).attr('y', Math.min(p.bottom + 64, 858))
    .attr('text-anchor', 'middle').attr('font-size', 21).attr('fill', '#222')
    .text(p.key + ')');

  g.append('text')
    .attr('transform', `translate(${p.ylx},${(p.top + p.bottom) / 2}) rotate(-90)`)
    .attr('text-anchor', 'middle').attr('dominant-baseline', 'central')
    .attr('font-size', 21).attr('fill', '#222')
    .text('DOS [u. a.]');

  const t = g.append('text')
    .attr('x', p.tx).attr('y', p.ty)
    .attr('text-anchor', 'middle').attr('font-size', 27).attr('fill', '#111');
  t.append('tspan').text(p.title[0]);
  if (p.title[1]) t.append('tspan').attr('font-size', 18).attr('dy', 5).text(p.title[1]);
});

// legend
const legend = svg.append('g').attr('class', 'legend');
legend.selectAll('g')
  .data(seriesNames)
  .join('g')
  .attr('transform', (d, i) => `translate(591,${484 + i * 36.8})`)
  .call(item => {
    item.append('line')
      .attr('x1', 0).attr('x2', 47)
      .attr('stroke', d => color(d)).attr('stroke-width', 4);
    item.append('text')
      .attr('x', 67).attr('dominant-baseline', 'central')
      .attr('font-size', 29).attr('fill', '#111')
      .text(d => d);
  });
</script>
</body>
</html>
